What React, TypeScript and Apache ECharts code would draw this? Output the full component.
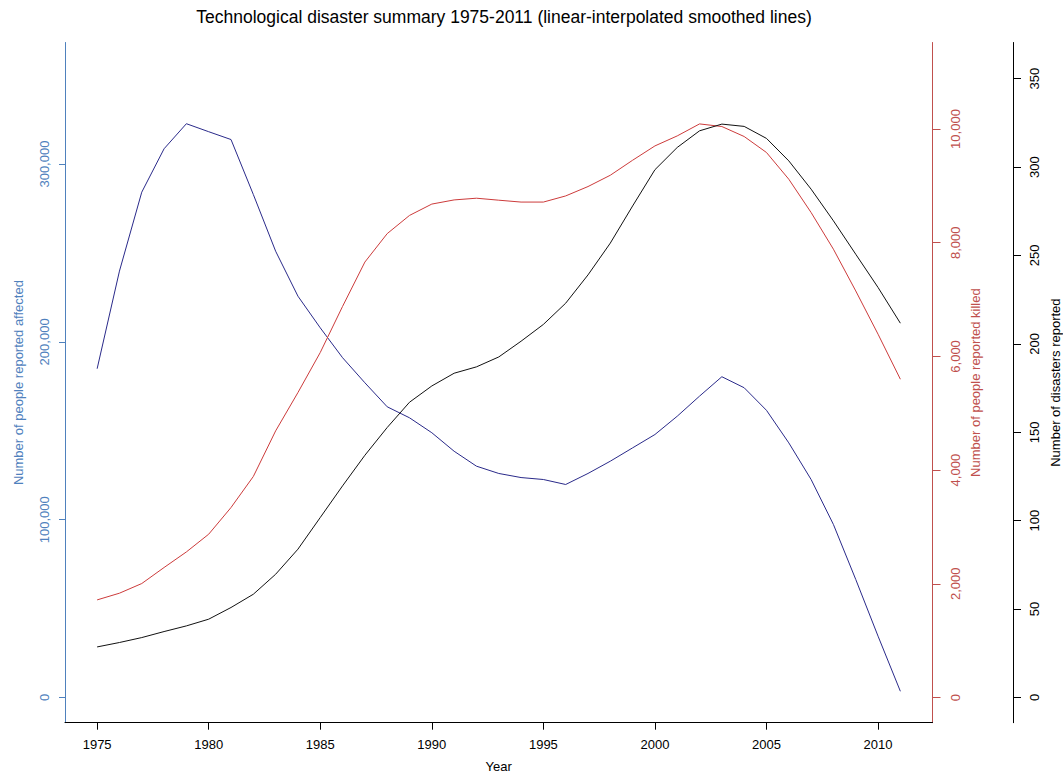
import React, { useEffect, useRef } from "react";
import * as echarts from "echarts";

const years = [
  1975, 1976, 1977, 1978, 1979, 1980, 1981, 1982, 1983, 1984, 1985, 1986, 1987,
  1988, 1989, 1990, 1991, 1992, 1993, 1994, 1995, 1996, 1997, 1998, 1999, 2000,
  2001, 2002, 2003, 2004, 2005, 2006, 2007, 2008, 2009, 2010, 2011,
];

const affected = [
  184900, 239800, 284200, 308600, 322700, 318200, 313800, 282900, 251000, 225700,
  207900, 191100, 177000, 163500, 157300, 148900, 138500, 130100, 126000, 123700,
  122600, 119800, 126000, 132900, 140400, 147900, 158200, 169500, 180400, 174200,
  161500, 143200, 122600, 97300, 66400, 34500, 3500,
];

const killed = [
  1717, 1835, 2005, 2287, 2561, 2873, 3342, 3888, 4690, 5365, 6069, 6880, 7660,
  8160, 8480, 8680, 8753, 8783, 8748, 8715, 8715, 8823, 8988, 9187, 9451, 9703,
  9879, 10090, 10044, 9868, 9587, 9117, 8531, 7886, 7152, 6391, 5599,
];

const disasters = [
  28.6, 31.1, 33.9, 37.3, 40.5, 44.3, 50.9, 58.4, 69.7, 83.9, 101.8, 119.7, 137.0,
  152.7, 167.0, 176.2, 183.4, 187.0, 192.6, 201.5, 211.0, 223.0, 239.0, 257.0,
  278.0, 298.5, 311.1, 320.5, 324.3, 323.0, 316.2, 303.5, 287.5, 269.6, 250.7,
  231.9, 211.7,
];

const yearTicks = [1975, 1980, 1985, 1990, 1995, 2000, 2005, 2010];
const affectedTicks = [0, 100000, 200000, 300000];
const killedTicks = [0, 2000, 4000, 6000, 8000, 10000];
const disasterTicks = [0, 50, 100, 150, 200, 250, 300, 350];

const FONT = "'Liberation Sans', Arial, sans-serif";
const BLUE_AXIS = "#4f81bd";
const RED_AXIS = "#c0504d";
const BLUE_LINE = "#2a2a8a";
const RED_LINE = "#cc3b3b";
const BLACK = "#000000";

const fmt = (v: number) => Number(v).toLocaleString("en-US");

function yAxisCfg(opts: any) {
  const { color, ticks, min, max, name, position, offset, margin, tickLen, nameGap } = opts;
  return {
    type: "value",
    position,
    offset,
    min,
    max,
    name,
    nameLocation: "middle",
    nameGap,
    nameRotate: 90,
    nameTextStyle: { color, fontSize: 13, fontFamily: FONT },
    axisLine: { show: true, onZero: false, lineStyle: { color, width: 1 } },
    axisTick: {
      show: true,
      inside: false,
      length: tickLen,
      customValues: ticks,
      lineStyle: { color, width: 1 },
    },
    axisLabel: {
      show: true,
      customValues: ticks,
      rotate: 90,
      margin,
      color,
      fontSize: 13,
      fontFamily: FONT,
      formatter: (v: number) => fmt(v),
    },
    splitLine: { show: false },
  };
}

export default function App() {
  const ref = useRef<HTMLDivElement>(null);

  useEffect(() => {
    if (!ref.current) return;
    const chart = echarts.init(ref.current, null, { renderer: "svg" });
    const option: any = {
      animation: false,
      backgroundColor: "#ffffff",
      textStyle: { fontFamily: FONT },
      title: {
        text: "Technological disaster summary 1975-2011 (linear-interpolated smoothed lines)",
        left: 499,
        top: 3,
        textAlign: "center",
        textStyle: { fontSize: 17.5, fontWeight: "normal", color: BLACK, fontFamily: FONT },
      },
      grid: {
        left: 65,
        right: 130.5,
        top: 42.5,
        bottom: 51.3,
        containLabel: false,
        outerBoundsMode: "none",
      },
      xAxis: {
        type: "value",
        min: 1973.56,
        max: 2012.44,
        name: "Year",
        nameLocation: "middle",
        nameGap: 37,
        nameTextStyle: { color: BLACK, fontSize: 13, fontFamily: FONT },
        axisLine: { show: true, onZero: false, lineStyle: { color: BLACK, width: 1 } },
        axisTick: {
          show: true,
          inside: false,
          length: 7,
          customValues: yearTicks,
          lineStyle: { color: BLACK, width: 1 },
        },
        axisLabel: {
          show: true,
          customValues: yearTicks,
          margin: 15,
          color: BLACK,
          fontSize: 13,
          fontFamily: FONT,
          formatter: (v: number) => String(v),
        },
        splitLine: { show: false },
      },
      yAxis: [
        yAxisCfg({
          color: BLUE_AXIS,
          ticks: affectedTicks,
          min: -14170,
          max: 368370,
          name: "Number of people reported affected",
          position: "left",
          offset: 0,
          margin: 14,
          tickLen: 6,
          nameGap: 40,
        }),
        yAxisCfg({
          color: RED_AXIS,
          ticks: killedTicks,
          min: -443,
          max: 11522,
          name: "Number of people reported killed",
          position: "right",
          offset: 0,
          margin: 16,
          tickLen: 8,
          nameGap: 36,
        }),
        yAxisCfg({
          color: BLACK,
          ticks: disasterTicks,
          min: -14.25,
          max: 370.45,
          name: "Number of disasters reported",
          position: "right",
          offset: 80.5,
          margin: 15,
          tickLen: 8,
          nameGap: 33,
        }),
      ],
      series: [
        {
          name: "Affected",
          type: "line",
          yAxisIndex: 0,
          showSymbol: false,
          symbol: "none",
          smooth: false,
          data: years.map((y, i) => [y, affected[i]]),
          lineStyle: { color: BLUE_LINE, width: 1 },
          itemStyle: { color: BLUE_LINE },
        },
        {
          name: "Killed",
          type: "line",
          yAxisIndex: 1,
          showSymbol: false,
          symbol: "none",
          smooth: false,
          data: years.map((y, i) => [y, killed[i]]),
          lineStyle: { color: RED_LINE, width: 1 },
          itemStyle: { color: RED_LINE },
        },
        {
          name: "Disasters",
          type: "line",
          yAxisIndex: 2,
          showSymbol: false,
          symbol: "none",
          smooth: false,
          data: years.map((y, i) => [y, disasters[i]]),
          lineStyle: { color: "#111111", width: 1 },
          itemStyle: { color: "#111111" },
        },
      ],
    };
    chart.setOption(option);
    return () => chart.dispose();
  }, []);

  return (
    <div
      ref={ref}
      style={{ position: "fixed", left: 0, top: 0, width: 1063, height: 774, background: "#fff" }}
    />
  );
}
